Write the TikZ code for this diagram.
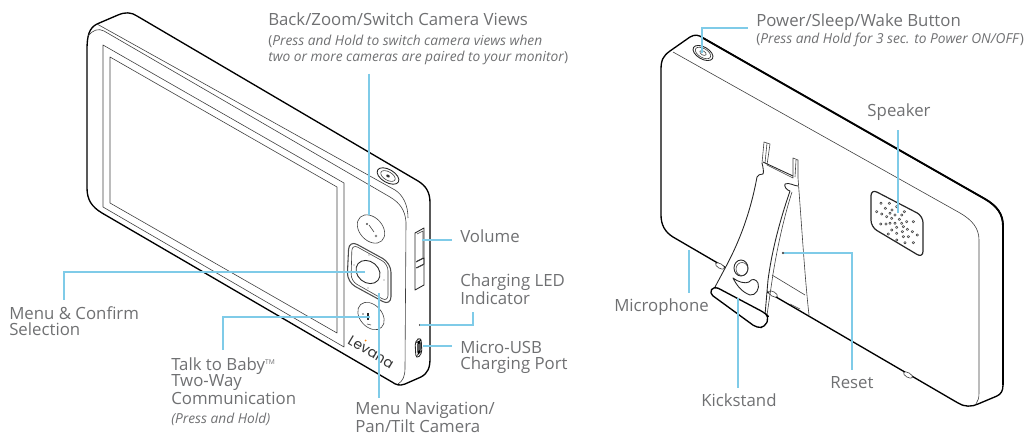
\documentclass[tikz,border=0pt]{standalone}
\usepackage{fontspec}
\setmainfont{Open Sans}
\newfontfamily\logofont{Poppins}
\definecolor{leadblue}{HTML}{7FCBE8}
\definecolor{labelgray}{HTML}{6F7072}
\begin{document}
\begin{tikzpicture}[x=.75pt,y=-.75pt,
  lbl/.style={text=labelgray,font=\fontsize{12.6}{12.2}\selectfont,align=left,anchor=north west,inner sep=0pt},
  notelbl/.style={lbl,font=\fontsize{10.3}{12.2}\selectfont},
  leader/.style={draw=leadblue,line width=1pt},
  shell/.style={draw=black,line width=1pt,line join=round},
  thinline/.style={draw=black!75,line width=.45pt,line join=round},
  midline/.style={draw=black!85,line width=.65pt,line join=round}]
\useasboundingbox (0,0) rectangle (1024,435);
% monitor, front
\draw[shell] (87,50) .. controls (87,36) and (89,28) .. (97,24) -- (118,15) .. controls (125,12) and (131,12) .. (137,16) -- (418,181) .. controls (426,186) and (430,192) .. (430,203) -- (430,358) .. controls (430,368) and (428,373) .. (421,377) -- (405,384) .. controls (400,386) and (396,385) .. (392,382) -- (102,213) .. controls (92,207) and (87,200) .. (87,188) -- cycle;
\draw[thinline] (97,24) -- (395,190) .. controls (403,195) and (408,205) .. (408,218);
\draw[thinline] (88,36) .. controls (93,30) and (98,28) .. (104,31) -- (390,197) .. controls (400,203) and (405,210) .. (406,222) -- (405,368) .. controls (405,376) and (403,381) .. (398,384);
\draw[thinline] (103,45) -- (344,183) -- (344,347) -- (103,207) -- cycle;
\draw[thinline] (110,57) -- (337,187) -- (337,333) -- (110,203) -- cycle;
% buttons
\draw[midline,rotate around={-30:(388,176)}] (388,176) ellipse (12 and 6.5);
\draw[thinline,rotate around={-30:(388,176)}] (388,176) ellipse (8 and 4.2);
\fill[black!80,rotate around={-30:(388,176)}] (388,176) ellipse (2 and 1.3);
\draw[thinline,rotate around={-48:(371,229)}] (371,229) ellipse (16 and 11.5);
\draw[thinline] (374,232) -- (369,225);
\fill[black!70] (367,224) circle (1.2);
\fill[black!50] (376,236) circle (1.3);
\draw[draw=black!70,line width=.8pt,rounded corners=7,line join=round] (349,240) -- (391,263) -- (391,306) -- (347,282) -- cycle;
\draw[thinline,rounded corners=5] (352,244) -- (388,264) -- (388,302) -- (351,281) -- cycle;
\draw[midline,rotate around={-40:(368,272)}] (368,272) ellipse (13 and 10.5);
\foreach \mx/\my in {369/255,354/265,384/280,368/288}
  \fill[black!60] (\mx,\my) circle (.7);
\draw[thinline,rotate around={-48:(371,316)}] (371,316) ellipse (15.5 and 11);
\draw[midline,line width=.9pt] (368,313) -- (368,320);
\fill[black!60] (363,314) circle (.9);
\fill[black!60] (379,319) circle (.9);
\draw[thinline] (367,324) -- (371,325);
% logo
\node[rotate=-31,font=\logofont\fontsize{10.5}{10.5}\selectfont,text=black!80,inner sep=0pt] (logo) at (371,352) {Levana};
\fill[orange] (365.5,340.5) circle (1);
% side controls
\draw[midline] (415,233) -- (424,228) -- (424,285) -- (415,290) -- cycle;
\draw[thinline] (417,234) -- (423,231) -- (423,258) -- (417,261);
\draw[midline] (416,262) -- (424,258) -- (424,264) -- (416,268);
\draw[thinline] (417,268) -- (423,265);
\fill[black!80] (420,325) circle (1.2);
\draw[midline,rounded corners=3] (415,341) -- (421,337) -- (422,354) -- (416,359) -- cycle;
\draw[line width=.9pt,rounded corners=1.5] (418,342) -- (420,341) -- (420,352) -- (418,354) -- cycle;
% monitor labels
\node[lbl] (backlbl) at (268,12) {Back/Zoom/Switch Camera Views};
\node[notelbl] (backnote) at (268,35) {(\textit{Press and Hold to switch camera views when}\\\textit{two or more cameras are paired to your monitor})};
\node[lbl] (vollbl) at (460,229) {Volume};
\node[lbl] (ledlbl) at (460,273) {Charging LED\\Indicator};
\node[lbl] (usblbl) at (460,341) {Micro-USB\\Charging Port};
\node[lbl] (menulbl) at (9,306) {Menu \& Confirm\\Selection};
\node[lbl] (talklbl) at (171,357) {Talk to Baby\textsuperscript{\tiny TM}\\Two-Way\\Communication};
\node[notelbl] (talknote) at (171,413) {\textit{(Press and Hold)}};
\node[lbl] (navlbl) at (355,402) {Menu Navigation/\\Pan/Tilt Camera};
\coordinate (backtip) at (369,215);
\coordinate (voltip) at (422,240);
\coordinate (ledtip) at (420,325);
\coordinate (usbtip) at (423,346);
\coordinate (menutip) at (365,272);
\coordinate (talktip) at (370,317);
\coordinate (navtip) at (379,293);
\coordinate (menuturn) at (64,272);
\coordinate (talkturn) at (223,317);
\coordinate (ledturn) at (473,325);
\draw[leader,shorten <=6pt] (backnote.south -| backtip) -- (backtip);
\draw[leader,shorten <=6pt] (vollbl.west |- voltip) -- (voltip);
\draw[leader,shorten <=6pt] (usblbl.west |- usbtip) -- (usbtip);
\draw[leader,shorten >=5.25pt] (ledtip) -- (ledturn) -- (ledlbl.south -| ledturn);
\draw[leader,shorten >=4.25pt] (menutip) -- (menuturn) -- (menulbl.north -| menuturn);
\draw[leader,shorten >=5.5pt] (talktip) -- (talkturn) -- (talklbl.north -| talkturn);
\draw[leader,shorten >=3pt] (navtip) -- (navlbl.north -| navtip);
% monitor, back
\draw[shell] (661,70) .. controls (661,60) and (663,56) .. (670,51) -- (690,37) .. controls (695,34) and (699,35) .. (703,38) -- (985,199) .. controls (997,206) and (1003,214) .. (1003,226) -- (1003,385) .. controls (1003,391) and (1001,394) .. (997,396) -- (978,404) .. controls (972,407) and (964,407) .. (958,403) -- (673,237) .. controls (665,232) and (661,225) .. (661,215) -- cycle;
\draw[line width=1.4pt,line join=round] (703,38) -- (985,199) .. controls (997,206) and (1003,214) .. (1003,226) -- (1003,385);
\draw[thinline] (673,52) -- (960,213) .. controls (972,220) and (979,228) .. (979,240) -- (979,393) .. controls (979,398) and (978,401) .. (976,404);
\draw[midline,rotate around={-30:(703,53)}] (703,53) ellipse (11 and 6);
\draw[thinline,rotate around={-30:(703,53)}] (703,53) ellipse (8.5 and 4.5);
\draw[thinline,rotate around={-30:(703,53)}] (703,53) ellipse (3.5 and 2);
\foreach \fx/\fy in {908/375,720/266,773/294}
  \draw[thinline,fill=white,rotate around={-30:(\fx,\fy)}] (\fx,\fy) ellipse (5 and 2.3);
% kickstand
\draw[thinline] (762,163) -- (764,142) -- (770,144) -- (767,165) -- (793,178) -- (793,158) -- (798,160) -- (798,178) .. controls (802,230) and (805,280) .. (809,315);
\draw[midline] (763,162) -- (793,176);
\draw[thinline] (767,143) -- (765,163);
\draw[thinline] (796,160) -- (795,177);
\draw[thinline] (772,275) -- (805,295);
\draw[thinline] (790,304) -- (800,309);
\draw[fill=white,midline] (762,163) .. controls (763,167) and (764,172) .. (763,174) .. controls (760,174) and (758,175) .. (757,177) .. controls (750,215) and (738,245) .. (723,272) -- (715,287) -- (765,315) -- (768,280) .. controls (772,250) and (780,220) .. (790,191) .. controls (786,190) and (784,186) .. (785,184) .. controls (789,182) and (794,186) .. (798,186);
\draw[thinline] (767,315) -- (773,274) .. controls (777,250) and (783,220) .. (792,192);
\draw[shell,fill=white,rounded corners=3.5] (714,286) -- (709,293) -- (757,328) -- (765,327) -- (769,317) -- (765,313) -- cycle;
\draw[midline] (741,268) ellipse (7 and 8);
\draw[thinline] (742,269) ellipse (6 and 6.5);
\draw[midline] (733,278) .. controls (737,286) and (742,292) .. (750,295) .. controls (756,296) and (760,288) .. (758,283) .. controls (756,279) and (752,278) .. (749,282) .. controls (745,284) and (738,282) .. (733,278) -- cycle;
% speaker
\draw[midline,line width=.9pt,rounded corners=5] (871,189) -- (923,216) -- (923,258) -- (871,227) -- cycle;
\foreach \sx/\sy in {63/100,88/100,76/115,110/110,96/120,133/125,50/125,65/132,90/130,80/140,105/135,125/135,95/145,118/148,140/155,160/155,62/162,78/162,90/160,105/160,125/160,110/172,130/170,142/178,157/185,172/195,95/180,85/192,110/190,127/185,130/200,145/200,110/210,135/218,160/218}
  \draw[thinline] ({860+\sx/3},{170+\sy/3}) circle (1.2);
% back labels
\node[lbl] (powerlbl) at (756,13) {Power/Sleep/Wake Button};
\node[notelbl] (powernote) at (756,33) {(\textit{Press and Hold for 3 sec. to Power ON/OFF})};
\node[lbl,anchor=north] (speakerlbl) at (899,103) {Speaker};
\node[lbl] (miclbl) at (614,298) {Microphone};
\node[lbl] (kicklbl) at (701,393) {Kickstand};
\node[lbl,anchor=north] (resetlbl) at (852,376) {Reset};
\coordinate (powertip) at (702,53);
\coordinate (powerturn) at (702,28);
\coordinate (speakertip) at (898,213);
\coordinate (mictip) at (689,250);
\coordinate (kicktip) at (738,298);
\coordinate (resettip) at (783,253);
\coordinate (resetturn) at (852,253);
\draw[leader,shorten >=6pt] (powertip) -- (powerturn) -- (powerlbl.west |- powerturn);
\draw[leader,shorten <=7.25pt] (speakerlbl.south -| speakertip) -- (speakertip);
\draw[leader,shorten >=3.75pt] (mictip) -- (miclbl.north -| mictip);
\draw[leader,shorten >=3.75pt] (kicktip) -- (kicklbl.north -| kicktip);
\draw[leader,shorten >=4.5pt] (resettip) -- (resetturn) -- (resetlbl.north);
\draw[thinline,fill=white] (resettip) circle (1);
\end{tikzpicture}
\end{document}
